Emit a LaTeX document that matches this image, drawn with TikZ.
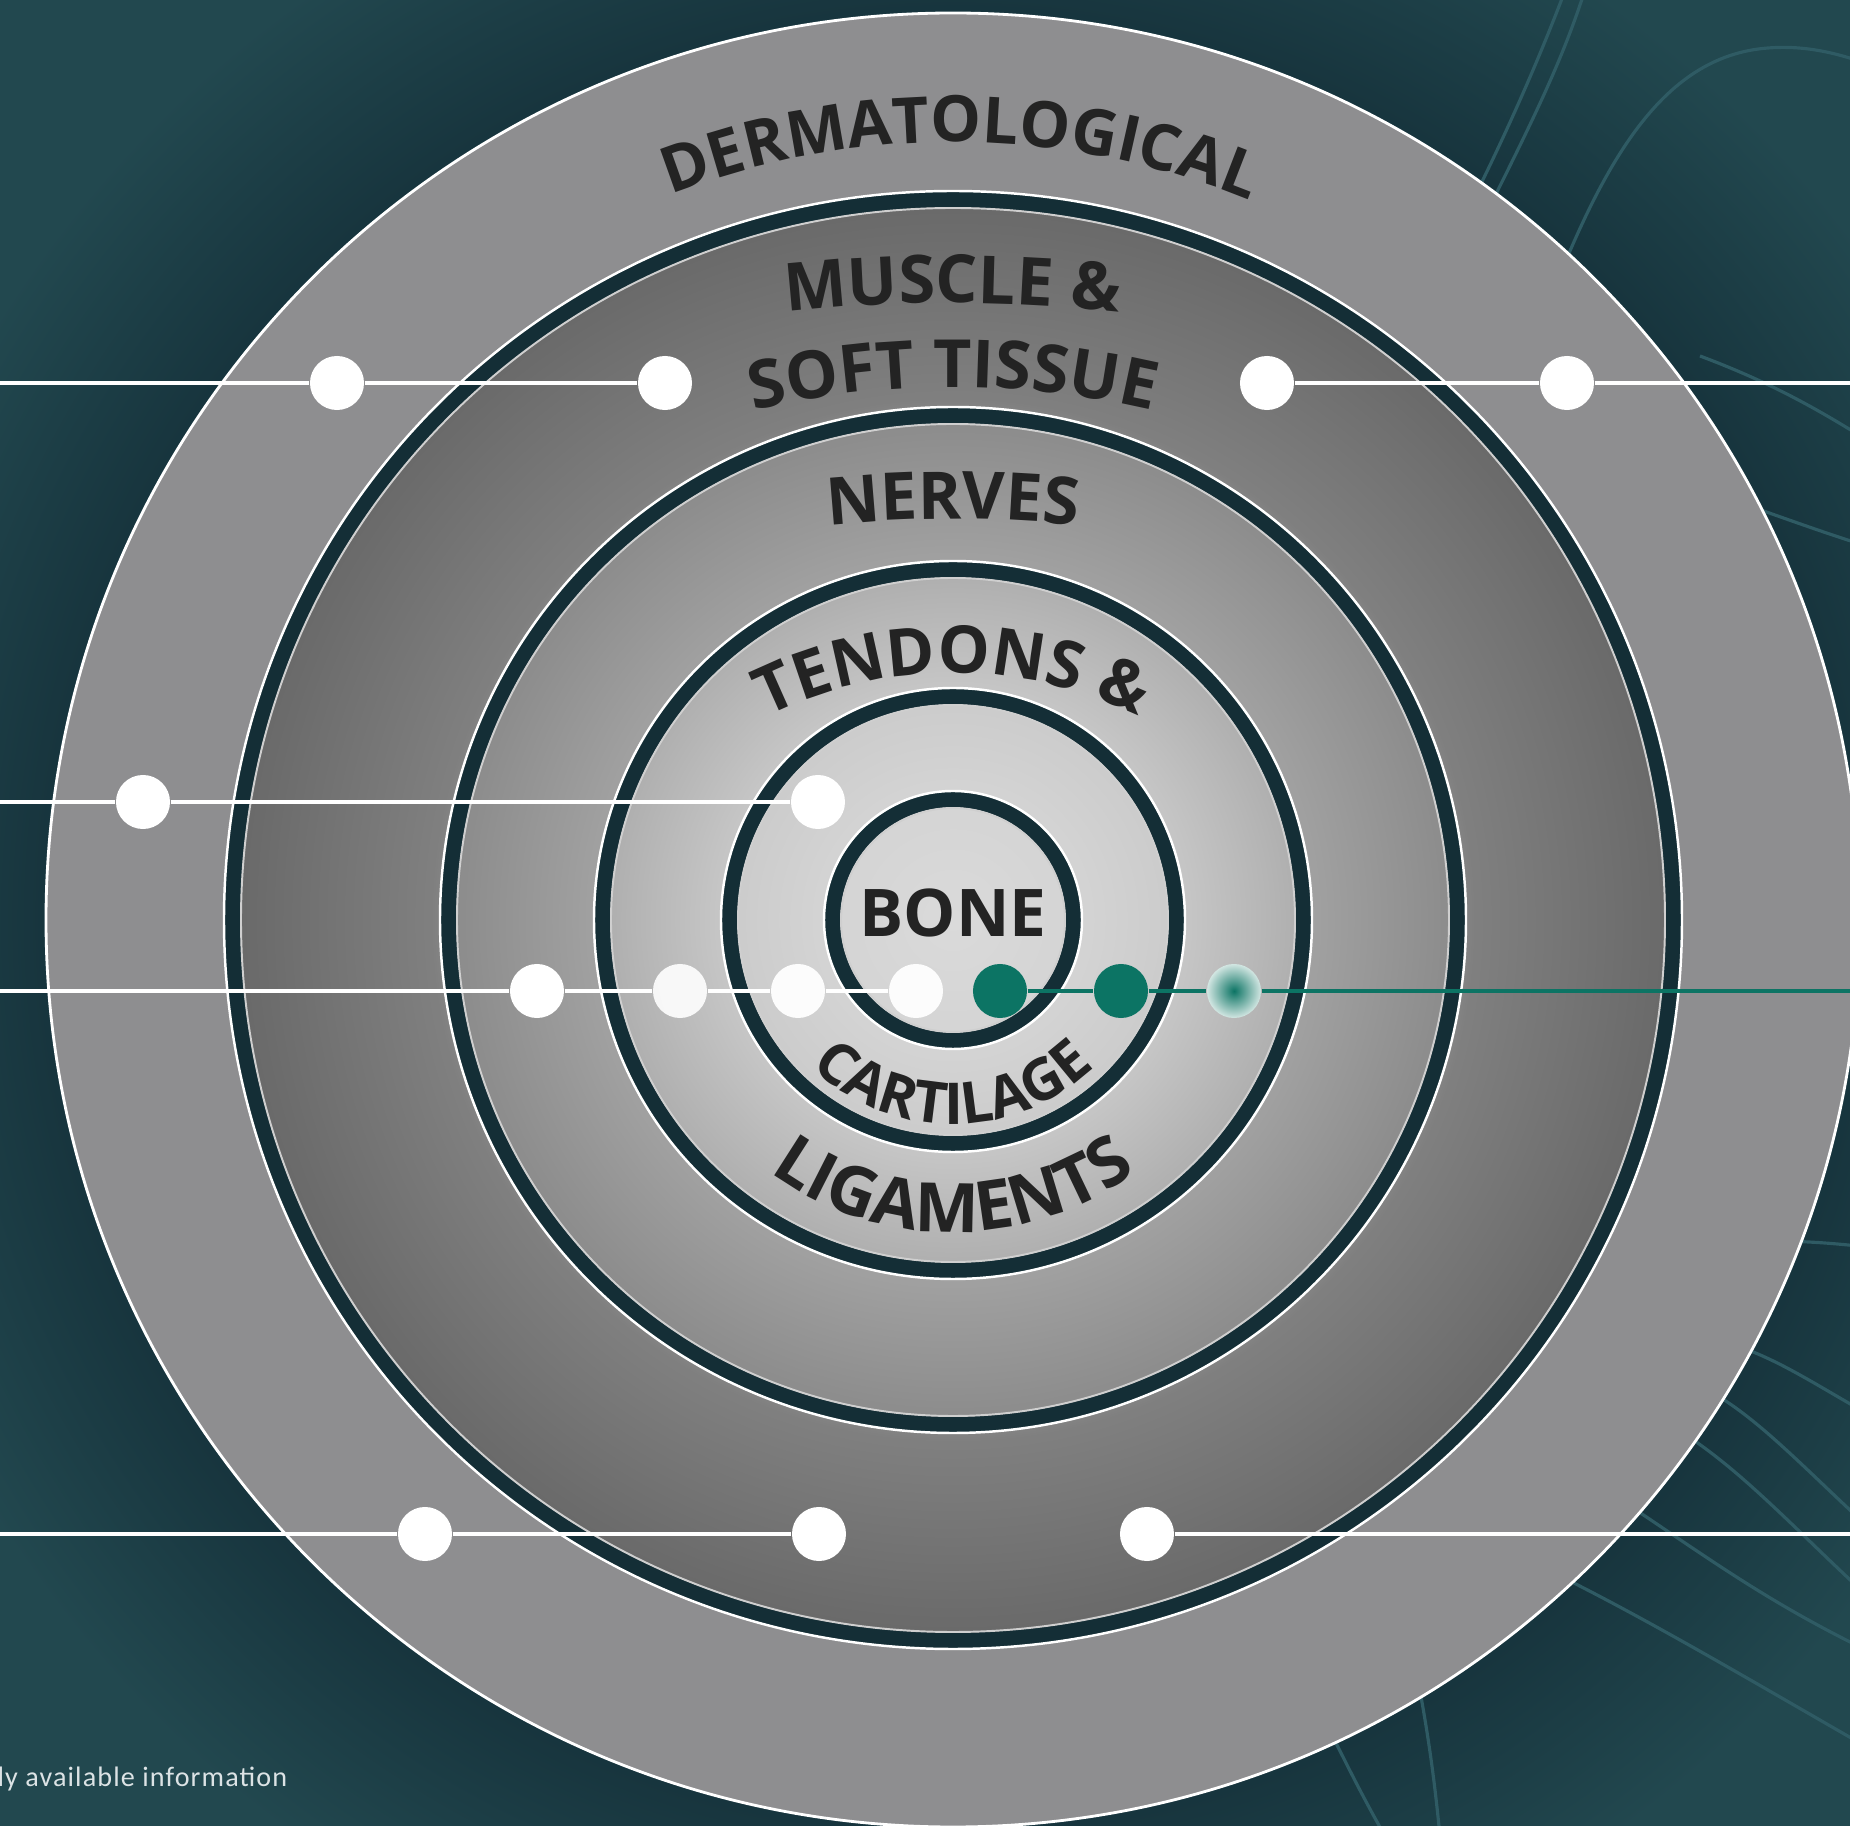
\documentclass[tikz,border=0pt]{standalone}
\usepackage{fontspec}
\setmainfont{Open Sans}
\newfontfamily\notefamily{Carlito}[LetterSpace=4]
\usepackage{tikz}
\usetikzlibrary{positioning}
\usetikzlibrary{decorations.text}

\definecolor{bgteal}{HTML}{22484F}
\definecolor{swirlc}{HTML}{2F5B64}
\definecolor{skin}{HTML}{8E8E90}
\definecolor{ringdark}{HTML}{142E36}
\definecolor{ringlight}{HTML}{CFCFCF}
\definecolor{ink}{HTML}{232323}
\definecolor{teal}{HTML}{0C7464}
\definecolor{paleteal}{HTML}{D2E6E2}
\definecolor{notegray}{HTML}{DCE3E5}

% 25bp of a radial shading is the rim of the shaded circle
\pgfdeclareradialshading{haloshade}{\pgfpoint{0bp}{0bp}}{rgb(0bp)=(0.090,0.205,0.240); rgb(20bp)=(0.090,0.205,0.240); rgb(25bp)=(0.133,0.282,0.310); rgb(50bp)=(0.133,0.282,0.310)}
\pgfdeclareradialshading{tissueshade}{\pgfpoint{0bp}{0bp}}{rgb(0bp)=(0.855,0.855,0.855); rgb(4.4bp)=(0.83,0.83,0.83); rgb(7.3bp)=(0.80,0.80,0.80); rgb(8bp)=(0.775,0.775,0.775); rgb(11.65bp)=(0.69,0.69,0.69); rgb(12.35bp)=(0.63,0.63,0.63); rgb(17bp)=(0.55,0.55,0.55); rgb(17.85bp)=(0.50,0.50,0.50); rgb(24bp)=(0.42,0.42,0.42); rgb(25bp)=(0.41,0.41,0.41); rgb(50bp)=(0.41,0.41,0.41)}

\newcommand{\dermfont}{\bfseries\fontsize{18.2}{19}\selectfont}
\newcommand{\bigfont}{\bfseries\fontsize{18.9}{20}\selectfont}
\newcommand{\midfont}{\bfseries\fontsize{18.7}{20}\selectfont}
\newcommand{\ligfont}{\bfseries\fontsize{19.4}{20}\selectfont}
\newcommand{\smallfont}{\bfseries\fontsize{16.4}{17}\selectfont}

\begin{document}
\begin{tikzpicture}
    [
    x=0.01cm, y=0.01cm,
    bead/.style={circle,fill=white,inner sep=0pt,minimum size=5.4mm},
    tealbead/.style={bead,fill=teal},
    glowbead/.style={circle,inner sep=0pt,minimum size=5.4mm,inner color=teal,outer color=paleteal},
    wire/.style={white,line width=1.3pt},
    tealwire/.style={teal,line width=1.3pt},
    swirl/.style={swirlc,line width=0.9pt},
    ringhalo/.style={white,line width=0.7pt},
    ringband/.style={ringdark,line width=4.4pt},
    ringinner/.style={ringlight,line width=0.55pt},
    arctext/.style 2 args={decorate,decoration={text along path,text color=ink,text align=center,text={|#1|#2}}},
    fitarctext/.style 2 args={decorate,decoration={text along path,text color=ink,text align={fit to path},text={|#1|#2}}},
    ]
    \useasboundingbox (0,0) rectangle (1850,1826);
    \clip (0,0) rectangle (1850,1826);
    \fill [bgteal] (0,0) rectangle (1850,1826);

    \coordinate (c) at (953,906);
    \shade [shading=haloshade] (c) circle [radius=1130];

    % faint background swirls
    \draw [swirl] (1583,1830) .. controls (1560,1760) and (1530,1700) .. (1480,1600);
    \draw [swirl] (1563,1830) .. controls (1540,1770) and (1510,1700) .. (1470,1620);
    \draw [swirl] (1540,1500) .. controls (1600,1660) and (1660,1770) .. (1768,1778) .. controls (1820,1782) and (1860,1765) .. (1900,1750);
    \draw [swirl] (1700,1470) .. controls (1780,1440) and (1830,1410) .. (1900,1365);
    \draw [swirl] (1720,1330) .. controls (1780,1310) and (1830,1290) .. (1900,1270);
    \draw [swirl] (1770,585) .. controls (1820,585) and (1860,580) .. (1900,575);
    \draw [swirl] (1720,485) .. controls (1780,470) and (1830,430) .. (1900,395);
    \draw [swirl] (1700,440) .. controls (1760,410) and (1810,350) .. (1900,270);
    \draw [swirl] (1680,395) .. controls (1750,350) and (1800,290) .. (1900,200);
    \draw [swirl] (1630,320) .. controls (1720,260) and (1780,215) .. (1900,160);
    \draw [swirl] (1560,250) .. controls (1660,200) and (1760,140) .. (1900,60);
    \draw [swirl] (1420,135) .. controls (1430,80) and (1435,40) .. (1440,-10);
    \draw [swirl] (1335,85) .. controls (1350,55) and (1365,25) .. (1385,-10);

    % layers
    \filldraw [fill=skin,draw=white,line width=0.8pt] (c) circle [radius=907];
    \shade [shading=tissueshade] (c) circle [radius=729];
    \foreach \r in {729,513,359,232,129} {
      \draw [ringband] (c) circle [radius=\r-8.5];
      \draw [ringhalo] (c) circle [radius=\r];
      \draw [ringinner] (c) circle [radius=\r-17];
    }

    % labels
    \coordinate (muc) at (953,23);
    \coordinate (soc) at (953,569);
    \coordinate (nec) at (953,107);
    \coordinate (tec) at (953,738);
    \path [fitarctext={\dermfont}{DERMATOLOGICAL}] ([shift={(111.3:778)}]c) arc [start angle=111.3,end angle=68.2,radius=778];
    \path [arctext={\bigfont}{MUSCLE {\&}}] ([shift={(97:1500)}]muc) arc [start angle=97,end angle=83,radius=1500];
    \path [arctext={\bigfont}{SOFT TISSUE}] ([shift={(104:870)}]soc) arc [start angle=104,end angle=76,radius=870];
    \path [arctext={\midfont}{NERVES}] ([shift={(97:1200)}]nec) arc [start angle=97,end angle=83,radius=1200];
    \path [arctext={\midfont}{TENDONS {\&}}] ([shift={(120:415)}]tec) arc [start angle=120,end angle=60,radius=415];
    \path [arctext={\smallfont}{CARTILAGE}] ([shift={(220:204)}]c) arc [start angle=220,end angle=320,radius=204];
    \path [arctext={\ligfont}{LIGAMENTS}] ([shift={(225:312)}]c) arc [start angle=225,end angle=315,radius=312];
    \node (bone) at (953,889) [anchor=base,inner sep=0pt,text=ink,font=\midfont] {BONE};

    % connectors
    \coordinate (w1) at (0,1443);
    \coordinate (e1) at (1850,1443);
    \coordinate (w2) at (0,1024);
    \coordinate (w3) at (0,835);
    \coordinate (e3) at (1850,835);
    \coordinate (w4) at (0,292);
    \coordinate (e4) at (1850,292);

    \node (l1) at (337,1443) [bead] {};
    \node (l2) at (665,1443) [bead] {};
    \node (r1) at (1267,1443) [bead] {};
    \node (r2) at (1567,1443) [bead] {};
    \node (m1) at (143,1024) [bead] {};
    \node (m2) at (818,1024) [bead] {};
    \node (b1) at (537,835) [bead] {};
    \node (b2) at (680,835) [bead,fill opacity=0.9] {};
    \node (b3) at (798,835) [bead,fill opacity=0.95] {};
    \node (b4) at (916,835) [bead,fill opacity=0.95] {};
    \node (g1) at (1000,835) [tealbead] {};
    \node (g2) at (1121,835) [tealbead] {};
    \node (g3) at (1234,835) [glowbead] {};
    \node (f1) at (425,292) [bead] {};
    \node (f2) at (819,292) [bead] {};
    \node (f3) at (1147,292) [bead] {};

    \draw [wire] (w1) -- (l1) -- (l2);
    \draw [wire] (r1) -- (r2) -- (e1);
    \draw [wire] (w2) -- (m1) -- (m2);
    \draw [wire] (w3) -- (b1) -- (b2) -- (b3) -- (b4);
    \draw [tealwire] (g1) -- (g2) -- (g3) -- (e3);
    \draw [wire] (w4) -- (f1) -- (f2);
    \draw [wire] (f3) -- (e4);

    \node (note) at (-3,39) [anchor=base west,inner sep=0pt,text=notegray,font=\notefamily\fontsize{8}{9}\selectfont] {ly available information};
\end{tikzpicture}
\end{document}
